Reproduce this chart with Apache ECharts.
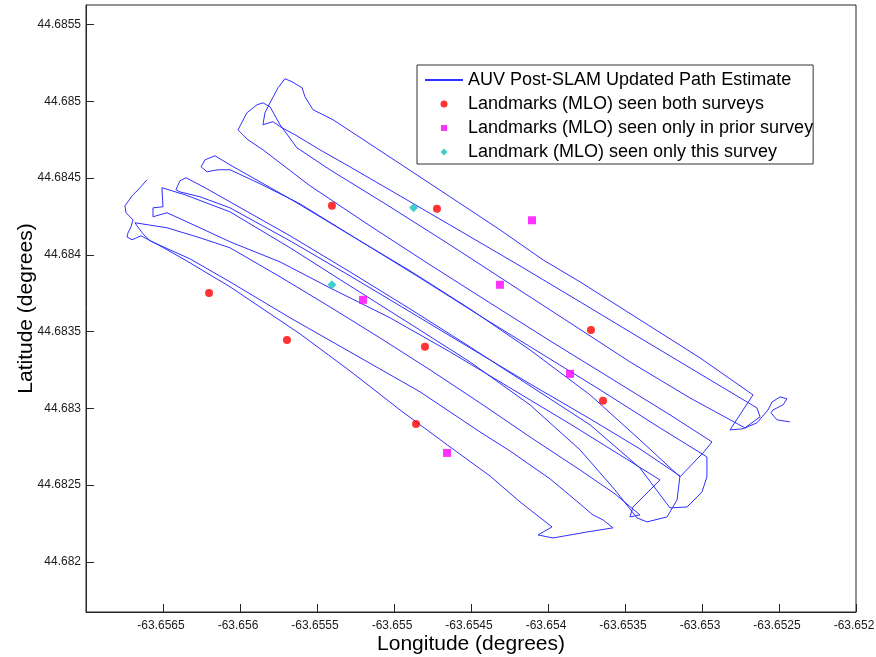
<!DOCTYPE html>
<html><head><meta charset="utf-8">
<script src="https://cdn.jsdelivr.net/npm/echarts@6/dist/echarts.min.js"></script>
<style>html,body{margin:0;padding:0;background:#fff}#c{width:876px;height:657px}</style>
</head><body><div id="c"></div>
<script>
// AUV path (longitude, latitude in degrees)
const pathLon = [-63.656604,-63.656649,-63.656701,-63.656747,-63.656740,-63.656695,-63.656708,-63.656727,-63.656734,-63.656701,
-63.656643,-63.656520,-63.656357,-63.656065,-63.655610,-63.655286,-63.654961,-63.654636,-63.654377,-63.654182,
-63.653974,-63.654065,-63.653968,-63.653747,-63.653578,-63.653643,-63.653708,-63.653792,-63.653987,-63.654247,
-63.654442,-63.654831,-63.655286,-63.655675,-63.656065,-63.656325,-63.656584,-63.656630,-63.656669,-63.656682,
-63.656474,-63.656260,-63.656065,-63.655740,-63.655416,-63.655091,-63.654766,-63.654442,-63.654117,-63.653792,
-63.653565,-63.653403,-63.653468,-63.653448,-63.653273,-63.653533,-63.653857,-63.654247,-63.654636,-63.655026,
-63.655416,-63.655740,-63.656065,-63.656260,-63.656474,-63.656565,-63.656565,-63.656500,-63.656507,-63.656357,
-63.656065,-63.655675,-63.655286,-63.654896,-63.654507,-63.654117,-63.653792,-63.653565,-63.653422,-63.653357,
-63.653227,-63.653162,-63.653143,-63.653403,-63.653727,-63.654117,-63.654507,-63.654896,-63.655286,-63.655675,
-63.656065,-63.656260,-63.656390,-63.656416,-63.656390,-63.656351,-63.656227,-63.656065,-63.655675,-63.655286,
-63.654896,-63.654507,-63.654117,-63.653727,-63.653403,-63.653208,-63.653097,-63.653000,-63.652968,-63.652968,
-63.653273,-63.653662,-63.654052,-63.654442,-63.654831,-63.655221,-63.655610,-63.655870,-63.656065,-63.656143,
-63.656214,-63.656253,-63.656227,-63.656162,-63.656065,-63.655675,-63.655286,-63.654896,-63.654507,-63.654117,
-63.653727,-63.653403,-63.653143,-63.652987,-63.652935,-63.653208,-63.653597,-63.653987,-63.654377,-63.654766,
-63.655156,-63.655546,-63.655851,-63.655948,-63.656013,-63.655955,-63.655890,-63.655851,-63.655805,-63.655740,
-63.655630,-63.655416,-63.655026,-63.654636,-63.654247,-63.653857,-63.653468,-63.653078,-63.652721,-63.652623,
-63.652643,-63.652708,-63.653013,-63.653403,-63.653792,-63.654182,-63.654571,-63.654961,-63.655286,-63.655481,
-63.655643,-63.655727,-63.655786,-63.655851,-63.655838,-63.655805,-63.655753,-63.655708,-63.655662,-63.655597,
-63.655578,-63.655526,-63.655396,-63.654961,-63.654636,-63.654312,-63.654032,-63.653792,-63.653403,-63.653013,
-63.652669,-63.652818,-63.652734,-63.652643,-63.652610,-63.652571,-63.652545,-63.652493,-63.652448,-63.652474,
-63.652539,-63.652552,-63.652513,-63.652429];
const pathLat = [44.684489,44.684437,44.684384,44.684319,44.684274,44.684228,44.684182,44.684143,44.684117,44.684098,
44.684124,44.684059,44.683967,44.683792,44.683485,44.683244,44.682990,44.682749,44.682560,44.682391,
44.682228,44.682176,44.682156,44.682195,44.682222,44.682274,44.682306,44.682378,44.682541,44.682723,
44.682847,44.683108,44.683368,44.683590,44.683824,44.683974,44.684091,44.684137,44.684189,44.684209,
44.684176,44.684111,44.684046,44.683857,44.683661,44.683459,44.683251,44.683036,44.682814,44.682599,
44.682443,44.682306,44.682293,44.682358,44.682534,44.682697,44.682899,44.683134,44.683368,44.683590,
44.683785,44.683954,44.684085,44.684176,44.684274,44.684248,44.684306,44.684313,44.684437,44.684391,
44.684280,44.684046,44.683798,44.683551,44.683303,44.683023,44.682730,44.682469,44.682287,44.682261,
44.682293,44.682404,44.682560,44.682736,44.682932,44.683160,44.683394,44.683629,44.683863,44.684091,
44.684306,44.684378,44.684410,44.684424,44.684482,44.684502,44.684437,44.684345,44.684124,44.683889,
44.683648,44.683401,44.683147,44.682893,44.682612,44.682352,44.682358,44.682456,44.682554,44.682684,
44.682873,44.683121,44.683362,44.683603,44.683850,44.684091,44.684332,44.684463,44.684554,44.684554,
44.684541,44.684573,44.684619,44.684645,44.684586,44.684365,44.684130,44.683896,44.683648,44.683381,
44.683088,44.682795,44.682554,44.682717,44.682782,44.682958,44.683199,44.683440,44.683687,44.683935,
44.684189,44.684450,44.684684,44.684749,44.684814,44.684925,44.684977,44.684990,44.684964,44.684847,
44.684697,44.684554,44.684313,44.684065,44.683811,44.683557,44.683303,44.683068,44.682873,44.682945,
44.683003,44.683042,44.683225,44.683459,44.683694,44.683928,44.684156,44.684384,44.684573,44.684684,
44.684782,44.684827,44.684867,44.684847,44.684925,44.684990,44.685088,44.685147,44.685127,44.685088,
44.685029,44.684945,44.684880,44.684593,44.684378,44.684163,44.683967,44.683824,44.683577,44.683329,
44.683088,44.682860,44.682867,44.682906,44.682945,44.682990,44.683042,44.683075,44.683062,44.683023,
44.682990,44.682971,44.682925,44.682912];

// Landmarks
const bothLon = [-63.656201,-63.655695,-63.655403,-63.654721,-63.654799,-63.653721,-63.653643,-63.654857];
const bothLat = [44.683752,44.683446,44.684319,44.684300,44.683401,44.683511,44.683049,44.682899];
const priorLon = [-63.654104,-63.654312,-63.655201,-63.653857,-63.654656];
const priorLat = [44.684225,44.683805,44.683707,44.683225,44.682710];
const thisLon = [-63.654873,-63.655403];
const thisLat = [44.684306,44.683805];

// Axis ticks
const xTicks = [-63.6565,-63.656,-63.6555,-63.655,-63.6545,-63.654,-63.6535,-63.653,-63.6525,-63.652];
const yTicks = [44.682,44.6825,44.683,44.6835,44.684,44.6845,44.685,44.6855];
const xMin = -63.657, xMax = -63.652;
const yMin = 44.681674, yMax = 44.685627;

const names = ['AUV Post-SLAM Updated Path Estimate','Landmarks (MLO) seen both surveys',
  'Landmarks (MLO) seen only in prior survey','Landmark (MLO) seen only this survey'];

const zip = (a, b) => a.map((v, i) => [v, b[i]]);
const fmt = v => String(Number(Number(v).toFixed(4)));
const FONT = 'Liberation Sans, Arial, Helvetica, sans-serif';
const AX = '#262626';

const chart = echarts.init(document.getElementById('c'), null, {renderer: 'canvas'});
chart.setOption({
  animation: false,
  backgroundColor: '#fff',
  grid: {left: 86, right: 20, top: 5, bottom: 45, containLabel: false, outerBoundsMode: 'none',
         show: true, borderColor: AX, borderWidth: 1, backgroundColor: '#fff'},
  xAxis: {
    type: 'value', min: xMin, max: xMax,
    name: 'Longitude (degrees)', nameLocation: 'middle', nameGap: 22, nameMoveOverlap: false,
    nameTextStyle: {fontFamily: FONT, fontSize: 21, color: '#000'},
    axisLine: {show: true, lineStyle: {color: AX, width: 1}},
    axisTick: {show: true, inside: true, length: 8, customValues: xTicks, lineStyle: {color: AX}},
    axisLabel: {customValues: xTicks, formatter: fmt, margin: 8, fontFamily: FONT, fontSize: 12, color: '#1a1a1a', padding: [0, 4, 0, 0]},
    splitLine: {show: false}
  },
  yAxis: {
    type: 'value', min: yMin, max: yMax,
    name: 'Latitude (degrees)', nameLocation: 'middle', nameGap: 49, nameRotate: 90, nameMoveOverlap: false,
    nameTextStyle: {fontFamily: FONT, fontSize: 21, color: '#000'},
    axisLine: {show: true, lineStyle: {color: AX, width: 1}},
    axisTick: {show: true, inside: true, length: 8, customValues: yTicks, lineStyle: {color: AX}},
    axisLabel: {customValues: yTicks, formatter: fmt, margin: 5, fontFamily: FONT, fontSize: 12, color: '#1a1a1a'},
    splitLine: {show: false}
  },
  legend: {
    orient: 'vertical', left: 417, top: 65,
    padding: [6, 0, 3, 7], itemGap: 6, itemWidth: 38, itemHeight: 8,
    backgroundColor: '#fff', borderColor: '#333', borderWidth: 1,
    textStyle: {fontFamily: FONT, fontSize: 18, color: '#000', lineHeight: 18},
    data: [
      {name: names[0], itemStyle: {opacity: 0}},
      {name: names[1], icon: 'path://M0,0M38,8M22.5,4A3.5,3.5,0,1,1,15.5,4A3.5,3.5,0,1,1,22.5,4Z'},
      {name: names[2], icon: 'path://M0,0M38,8M16,1L22,1L22,7L16,7Z'},
      {name: names[3], icon: 'path://M0,0M38,8M19,0.5L22.5,4L19,7.5L15.5,4Z'}
    ]
  },
  series: [
    {name: names[0], type: 'line', data: zip(pathLon, pathLat), showSymbol: false, symbol: 'none',
     lineStyle: {color: '#3030ff', width: 1}, itemStyle: {color: '#3030ff'}, z: 1},
    {name: names[1], type: 'scatter', data: zip(bothLon, bothLat), symbol: 'circle', symbolSize: 8,
     itemStyle: {color: '#ff0000'}, z: 3},
    {name: names[2], type: 'scatter', data: zip(priorLon, priorLat), symbol: 'rect', symbolSize: 8,
     itemStyle: {color: '#ff00ff'}, z: 3},
    {name: names[3], type: 'scatter', data: zip(thisLon, thisLat), symbol: 'diamond', symbolSize: 9,
     itemStyle: {color: '#10c0c0'}, z: 3}
  ]
});
</script>
</body></html>
